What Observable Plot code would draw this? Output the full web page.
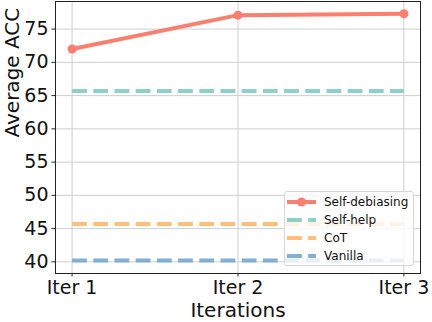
<!DOCTYPE html>
<html>
<head>
<meta charset="utf-8">
<script src="https://cdn.jsdelivr.net/npm/d3@7"></script>
<script src="https://cdn.jsdelivr.net/npm/@observablehq/plot@0.6"></script>
<style>
  body { margin: 0; background: #fff; }
  #wrap { position: relative; width: 432px; height: 322px; font-family: "DejaVu Sans", sans-serif; }
  #legend { position: absolute; left: 284px; top: 191px; width: 130px; height: 75px;
    box-sizing: border-box; border: 1px solid #d6d6d6; border-radius: 3px;
    background: rgba(255,255,255,0.8); font-size: 12px; color: #111; }
  .row { position: absolute; left: 2px; height: 18px; display: flex; align-items: center; }
  .row svg { margin-right: 8px; }
</style>
</head>
<body>
<div id="wrap"></div>
<script>
const iterations = ["Iter 1", "Iter 2", "Iter 3"];
const selfDebiasing = [72.0, 77.1, 77.3];
const seriesNames = ["Self-debiasing", "Self-help", "CoT", "Vanilla"];
const baselineNames = ["Self-help", "CoT", "Vanilla"];
const baselineValues = [65.7, 45.7, 40.2];
const colors = ["#FA7F6F", "#8ECFC9", "#FFBE7A", "#82B0D2"];
const yTicks = [40, 45, 50, 55, 60, 65, 70, 75];

const sdData = selfDebiasing.map((v, i) => ({i, v}));
const baseData = baselineNames.flatMap((name, k) =>
  [0, iterations.length - 1].map(i => ({name, i, v: baselineValues[k]})));

const chart = Plot.plot({
  width: 432,
  height: 322,
  marginLeft: 55,
  marginRight: 12,
  marginTop: 1,
  marginBottom: 49,
  style: {fontFamily: "DejaVu Sans", background: "transparent"},
  x: {domain: [-0.1, 2.1], ticks: [0, 1, 2], tickFormat: i => iterations[i], label: null},
  y: {domain: [38.25, 79.15], ticks: yTicks, label: null},
  color: {domain: seriesNames, range: colors},
  marks: [
    Plot.gridX([0, 1, 2], {stroke: "#cfcfcf", strokeOpacity: 1, strokeWidth: 1}),
    Plot.gridY(yTicks, {stroke: "#cfcfcf", strokeOpacity: 1, strokeWidth: 1}),
    Plot.line(sdData, {x: "i", y: "v", stroke: colors[0], strokeWidth: 4}),
    Plot.dot(sdData, {x: "i", y: "v", fill: colors[0], r: 4.5}),
    Plot.line(baseData, {x: "i", y: "v", z: "name", stroke: "name", strokeWidth: 4,
      strokeDasharray: "14.8,6.4", strokeLinecap: "butt"}),
    Plot.frame({stroke: "#222", strokeWidth: 1}),
    Plot.axisX([0, 1, 2], {tickFormat: i => iterations[i], fontSize: 19, tickSize: 3.5, tickPadding: 3.5, label: null, stroke: "#222"}),
    Plot.axisY(yTicks, {fontSize: 19, tickSize: 3.5, tickPadding: 3.5, label: null, stroke: "#222"}),
    Plot.text(["Average ACC"], {frameAnchor: "left", dx: -43, rotate: -90, fontSize: 20, fill: "#111"}),
    Plot.text(["Iterations"], {frameAnchor: "bottom", lineAnchor: "middle", dy: 37, fontSize: 20, fill: "#111"})
  ]
});
chart.querySelectorAll("text").forEach(t => t.setAttribute("fill", "#111"));
const wrap = document.getElementById("wrap");
wrap.appendChild(chart);

const legend = document.createElement("div");
legend.id = "legend";
seriesNames.forEach((name, k) => {
  const row = document.createElement("div");
  row.className = "row";
  row.style.top = (1 + k * 18) + "px";
  let sw;
  if (k === 0) {
    sw = `<svg width="29" height="10"><line x1="0" y1="5" x2="29" y2="5" stroke="${colors[k]}" stroke-width="4"/><circle cx="14.5" cy="5" r="4.5" fill="${colors[k]}"/></svg>`;
  } else {
    sw = `<svg width="29" height="10"><line x1="0" y1="5" x2="29" y2="5" stroke="${colors[k]}" stroke-width="4" stroke-dasharray="14.8,6.4"/></svg>`;
  }
  row.innerHTML = sw + `<span>${name}</span>`;
  legend.appendChild(row);
});
wrap.appendChild(legend);
</script>
</body>
</html>
